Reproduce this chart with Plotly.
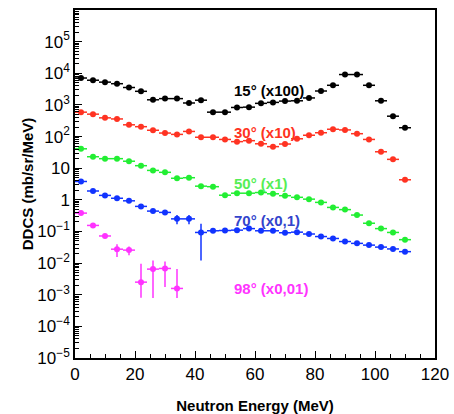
import plotly.graph_objects as go

energy = [2, 6, 10, 14, 18, 22, 26, 30, 34, 38, 42, 46, 50, 54, 58, 62, 66, 70, 74,
          78, 82, 86, 90, 94, 98, 102, 106, 110]

ddcs_15 = [7080, 6030, 5250, 4680, 3550, 2690, 1450, 1580, 1580, 1150, 1410, 590, 590,
           830, 850, 1120, 1200, 1320, 1350, 1660, 2750, 4170, 9120, 9120, 4170, 1350, 440, 190]
ddcs_30 = [590, 510, 390, 360, 235, 205, 158, 129, 117, 145, 95, 95, 81, 69, 74, 59, 48,
           58, 85, 110, 132, 170, 162, 123, 81, 33, 19, 4.3]
ddcs_50 = [41, 23, 20, 20, 16.6, 12, 8.5, 7.4, 4.8, 5.0, 2.7, 2.6, 1.4, 1.62, 1.62, 1.7,
           1.55, 1.35, 1.2, 1.05, 0.83, 0.575, 0.49, 0.33, 0.182, 0.123, 0.093, 0.055]
ddcs_70 = [3.8, 1.9, 1.38, 1.12, 0.93, 0.62, 0.44, 0.40, 0.25, 0.25, 0.093, 0.105, 0.107,
           0.11, 0.123, 0.105, 0.105, 0.091, 0.095, 0.083, 0.069, 0.060, 0.048, 0.042,
           0.037, 0.032, 0.028, 0.023]
err_70 = [0.15, 0.07, 0.05, 0.05, 0.05, 0.04, 0.03, 0.03, 0.08, 0.08, 0.081, 0.004, 0.004,
          0.004, 0.004, 0.004, 0.004, 0.003, 0.003, 0.003, 0.003, 0.002, 0.002, 0.002,
          0.002, 0.001, 0.001, 0.001]

energy_98 = [2, 6, 10, 14, 18, 22, 26, 30, 34]
ddcs_98 = [0.38, 0.155, 0.072, 0.0275, 0.0257, 0.0025, 0.00645, 0.00676, 0.00158]
err_98_up = [0.02, 0.01, 0.005, 0.012, 0.008, 0.007, 0.0056, 0.0044, 0.0049]
err_98_dn = [0.02, 0.01, 0.005, 0.012, 0.008, 0.0017, 0.00566, 0.005, 0.00079]

rel_err_default = 0.04

series = [
    ("15° (x100)", energy, ddcs_15, None, None, "#000000", "#000000", 3.44),
    ("30° (x10)", energy, ddcs_30, None, None, "#ff3322", "#ff3322", 2.14),
    ("50° (x1)", energy, ddcs_50, None, None, "#22ee33", "#55ee55", 0.53),
    ("70° (x0,1)", energy, ddcs_70, err_70, err_70, "#1133ff", "#3344cc", -0.65),
    ("98° (x0,01)", energy_98, ddcs_98, err_98_up, err_98_dn, "#ff33ff", "#ff33ff", -2.81),
]

fig = go.Figure()
annotations = []
for name, xs, ys, eu, ed, col, tcol, ylab in series:
    if eu is None:
        eu = [v * rel_err_default for v in ys]
        ed = eu
    fig.add_trace(go.Scatter(
        x=xs, y=ys, mode="markers", name=name,
        marker=dict(color=col, size=6, symbol="circle"),
        error_x=dict(type="constant", value=2, color=col, thickness=1.5, width=0),
        error_y=dict(type="data", array=eu, arrayminus=ed, symmetric=False,
                     color=col, thickness=1.5, width=0),
        showlegend=False,
    ))
    annotations.append(dict(
        x=52.3, y=ylab, xref="x", yref="y", text="<b>" + name + "</b>",
        showarrow=False, xanchor="left", yanchor="middle",
        font=dict(family="Liberation Sans", size=15, color=tcol),
    ))

ytick_vals = [1e-5, 1e-4, 1e-3, 1e-2, 1e-1, 1, 10, 1e2, 1e3, 1e4, 1e5]
ytick_text = ["10<sup>−5</sup>", "10<sup>−4</sup>", "10<sup>−3</sup>", "10<sup>−2</sup>",
              "10<sup>−1</sup>", "1", "10", "10<sup>2</sup>", "10<sup>3</sup>",
              "10<sup>4</sup>", "10<sup>5</sup>"]

fig.update_layout(
    width=454, height=414,
    margin=dict(l=75, r=19, t=10, b=56),
    paper_bgcolor="white", plot_bgcolor="white",
    font=dict(family="Liberation Sans", size=17, color="black"),
    annotations=annotations,
    xaxis=dict(
        range=[0, 120], tickvals=[0, 20, 40, 60, 80, 100, 120],
        ticks="inside", ticklen=7, tickwidth=1, tickcolor="black",
        minor=dict(ticks="inside", ticklen=4, dtick=5, tickcolor="black", showgrid=False),
        showline=True, linecolor="black", linewidth=1.5, mirror=True,
        showgrid=False, zeroline=False, automargin=False,
        title=dict(text="<b>Neutron Energy (MeV)</b>", font=dict(size=15), standoff=24),
        tickfont=dict(size=17),
    ),
    yaxis=dict(
        type="log", range=[-5, 6],
        tickvals=ytick_vals, ticktext=ytick_text,
        ticks="inside", ticklen=7, tickwidth=1, tickcolor="black",
        minor=dict(ticks="inside", ticklen=4, dtick="D1", tickcolor="black", showgrid=False),
        showline=True, linecolor="black", linewidth=1.5, mirror=True,
        showgrid=False, zeroline=False, automargin=False,
        title=dict(text="<b>DDCS (mb/sr/MeV)</b>", font=dict(size=15), standoff=0),
        tickfont=dict(size=17),
    ),
)

fig.write_html("out.html")
